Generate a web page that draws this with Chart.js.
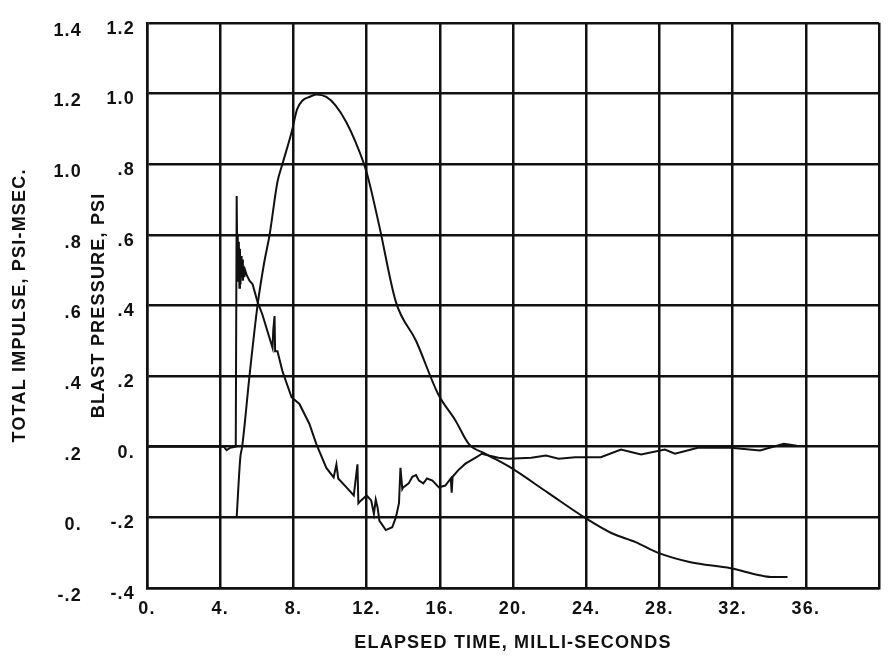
<!DOCTYPE html>
<html>
<head>
<meta charset="utf-8">
<script src="https://cdn.jsdelivr.net/npm/chart.js@4.4.1/dist/chart.umd.min.js"></script>
<style>
  html, body { margin: 0; padding: 0; background: #fff; }
  canvas { display: block; }
</style>
</head>
<body>
<canvas id="blastChart" width="889" height="664"></canvas>
<script>
// tick labels
const timeTickLabels = ['0.', '4.', '8.', '12.', '16.', '20.', '24.', '28.', '32.', '36.', ''];
const pressureTickLabels = ['-.4', '-.2', '0.', '.2', '.4', '.6', '.8', '1.0', '1.2'];
const impulseTickLabels = ['-.2', '0.', '.2', '.4', '.6', '.8', '1.0', '1.2', '1.4'];

// blast pressure trace (ms, psi)
const pressureTime = [0, 4.2, 4.35, 4.55, 4.85, 4.9, 4.93, 4.96, 4.99, 5.02, 5.05, 5.08, 5.11, 5.14, 5.17,
  5.2, 5.24, 5.28, 5.32, 5.36, 5.44, 5.6, 5.77, 6.04, 6.3, 6.7, 6.86, 6.9, 6.97, 7.0, 7.13, 7.4, 7.9, 8.33, 8.87, 9.25,
  9.8, 10.2, 10.35, 10.45, 10.9, 11.3, 11.5, 11.55, 11.7, 12.0, 12.25, 12.4, 12.5, 12.6, 12.7,
  12.8, 13.05, 13.4, 13.6, 13.77, 13.85, 13.95, 14.0, 14.3, 14.5, 14.7, 14.86, 15.1, 15.3, 15.6,
  15.95, 16.3, 16.6, 16.65, 16.7, 17.0, 17.4, 17.96, 18.3, 18.67, 19.2, 19.75, 21.0, 21.8, 22.5,
  23.4, 24.8, 25.9, 27.0, 28.3, 28.85, 30.1, 31.9, 33.5, 34.8, 35.5];
const pressureValue = [0, 0, -0.01, -0.003, 0, 0.71, 0.55, 0.6, 0.47, 0.58, 0.45, 0.56, 0.46, 0.54, 0.48,
  0.53, 0.47, 0.51, 0.48, 0.5, 0.487, 0.47, 0.46, 0.41, 0.375, 0.307, 0.28, 0.33, 0.37, 0.27, 0.27, 0.214, 0.14, 0.121, 0.065, 0.008,
  -0.06, -0.087, -0.05, -0.09, -0.115, -0.138, -0.05, -0.16, -0.152, -0.138, -0.152, -0.19, -0.15, -0.172, -0.21,
  -0.217, -0.236, -0.228, -0.2, -0.16, -0.06, -0.12, -0.115, -0.104, -0.085, -0.08, -0.096, -0.104, -0.09, -0.096,
  -0.115, -0.11, -0.09, -0.13, -0.085, -0.067, -0.048, -0.031, -0.02, -0.025, -0.031, -0.034, -0.031, -0.025, -0.034,
  -0.03, -0.03, -0.008, -0.022, -0.008, -0.02, -0.003, -0.003, -0.011, 0.008, 0.003];

// total impulse curve (ms, psi-msec)
const impulseTime = [4.9, 5.1, 5.2, 5.6, 6.04, 6.4, 6.7, 7.13, 7.4, 7.9, 8.2, 8.5, 8.87, 9.25,
  9.8, 10.3, 10.9, 11.4, 12.0, 12.68, 13.6, 14.7, 15.9, 16.87, 17.58, 18.5, 19.9, 21.9, 23.9,
  25.4, 26.7, 27.9, 29.7, 31.9, 33.4, 34.1, 35.0];
const impulseValue = [0.0, 0.17, 0.2, 0.4, 0.6, 0.72, 0.8, 0.95, 1.0, 1.09, 1.155, 1.18, 1.19, 1.197,
  1.19, 1.166, 1.118, 1.062, 0.977, 0.828, 0.61, 0.5, 0.35, 0.273, 0.208, 0.18, 0.14, 0.07, 0.0,
  -0.045, -0.07, -0.1, -0.127, -0.144, -0.163, -0.169, -0.169];

const ink = '#111';
const font = { family: 'Liberation Sans, Arial, sans-serif', size: 18, weight: 'bold' };

const toPoints = (xs, ys) => xs.map((x, i) => ({ x: x, y: ys[i] }));

// old typewriter-ish lettering is spaced a bit wider
const spacing = {
  id: 'spacing',
  beforeDraw(chart) { chart.ctx.letterSpacing = '1.2px'; }
};

new Chart(document.getElementById('blastChart'), {
  type: 'line',
  data: {
    datasets: [
      {
        label: 'Blast pressure',
        data: toPoints(pressureTime, pressureValue),
        yAxisID: 'yPressure',
        borderColor: ink,
        borderWidth: 2,
        pointRadius: 0,
        tension: 0
      },
      {
        label: 'Total impulse',
        data: toPoints(impulseTime, impulseValue),
        yAxisID: 'yImpulse',
        borderColor: ink,
        borderWidth: 2,
        pointRadius: 0,
        cubicInterpolationMode: 'monotone'
      }
    ]
  },
  plugins: [spacing],
  options: {
    responsive: false,
    animation: false,
    layout: { padding: { top: 20, right: 7, left: 0, bottom: 0 } },
    plugins: { legend: { display: false }, tooltip: { enabled: false } },
    scales: {
      x: {
        type: 'linear',
        min: 0,
        max: 40,
        afterFit: (s) => { s.height = 76; },
        ticks: {
          stepSize: 4,
          color: ink,
          font: font,
          padding: 10,
          maxRotation: 0,
          callback: (v, i) => timeTickLabels[i]
        },
        grid: { color: ink, lineWidth: 2.5, drawTicks: false },
        border: { color: ink, width: 2.5 },
        title: {
          display: true,
          text: 'ELAPSED TIME, MILLI-SECONDS',
          color: ink,
          font: font,
          padding: { top: 0, bottom: 10 }
        }
      },
      yPressure: {
        position: 'left',
        weight: 0,
        min: -0.4,
        max: 1.2,
        afterFit: (s) => { s.width = 59; },
        ticks: {
          stepSize: 0.2,
          color: ink,
          font: font,
          padding: 12,
          labelOffset: 6,
          callback: (v, i) => pressureTickLabels[i]
        },
        grid: { color: ink, lineWidth: 2.5, drawTicks: false },
        border: { color: ink, width: 2.5 },
        title: {
          display: true,
          text: 'BLAST PRESSURE, PSI',
          color: ink,
          font: font,
          padding: { top: 0, bottom: 0 }
        }
      },
      yImpulse: {
        position: 'left',
        weight: 1,
        min: -0.2,
        max: 1.4,
        afterFit: (s) => { s.width = 88; },
        ticks: {
          stepSize: 0.2,
          color: ink,
          font: font,
          padding: 6,
          labelOffset: 8,
          callback: (v, i) => impulseTickLabels[i]
        },
        grid: { display: false, drawTicks: false },
        border: { display: false },
        title: {
          display: true,
          text: 'TOTAL IMPULSE, PSI-MSEC.',
          color: ink,
          font: font,
          padding: { top: 9, bottom: 0 }
        }
      }
    }
  }
});
</script>
</body>
</html>
